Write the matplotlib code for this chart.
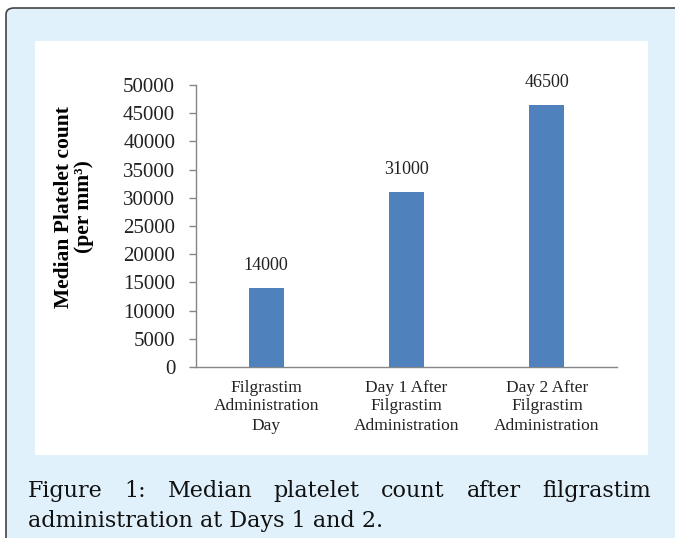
import matplotlib
matplotlib.use("Agg")
import matplotlib.pyplot as plt
from matplotlib.patches import FancyBboxPatch, Rectangle

# data
categories = ["Filgrastim\nAdministration\nDay",
              "Day 1 After\nFilgrastim\nAdministration",
              "Day 2 After\nFilgrastim\nAdministration"]
platelets = [14000, 31000, 46500]
yticks = list(range(0, 50001, 5000))

W, H = 675, 538
bar_color = "#4F81BD"
axis_color = "#868686"
bg_blue = "#E0F1FB"


def fx(x):
    return x / W


def fy(y):
    return 1 - y / H


fig = plt.figure(figsize=(W / 100, H / 100), dpi=100)
fig.patch.set_facecolor("white")

# outer frame (light blue, rounded, clipped at the right/bottom)
frame = FancyBboxPatch((fx(6), fy(700)), fx(760), fy(8) - fy(700),
                       boxstyle="round,pad=0,rounding_size=0.012",
                       transform=fig.transFigure, facecolor=bg_blue,
                       edgecolor="#444444", linewidth=1.2, zorder=0)
fig.patches.append(frame)
# white panel behind the chart
panel = Rectangle((fx(35), fy(455)), fx(648) - fx(35), fy(41) - fy(455),
                  transform=fig.transFigure, facecolor="white",
                  edgecolor="none", zorder=1)
fig.patches.append(panel)

ax = fig.add_axes([fx(196), fy(367), fx(617) - fx(196), fy(85) - fy(367)])
ax.set_facecolor("none")
ax.set_zorder(5)

x = range(len(categories))
bars = ax.bar(x, platelets, width=0.25, color=bar_color, zorder=3)
ax.set_xlim(-0.5, 2.5)
ax.set_ylim(0, 50000)
ax.set_yticks(yticks)
ax.set_yticklabels([str(v) for v in yticks], family="Liberation Serif",
                   fontsize=15, color="#222222")
ax.set_xticks(list(x))
ax.set_xticklabels(categories, family="Liberation Serif", fontsize=12.5,
                   linespacing=1.25, color="#222222")
ax.tick_params(axis="x", length=0, pad=9)
ax.tick_params(axis="y", length=5, color=axis_color, width=1, pad=10)

for side in ["top", "right"]:
    ax.spines[side].set_visible(False)
for side in ["left", "bottom"]:
    ax.spines[side].set_color(axis_color)
    ax.spines[side].set_linewidth(1)

for b, v in zip(bars, platelets):
    ax.annotate(str(v), (b.get_x() + b.get_width() / 2, v),
                xytext=(0, 10), textcoords="offset points", ha="center",
                va="bottom", family="Liberation Serif", fontsize=13,
                color="#222222")

fig.text(fx(74), fy(207), "Median Platelet count\n(per mm³)",
         rotation=90, ha="center", va="center", family="Liberation Serif",
         fontweight="bold", fontsize=15.5, linespacing=1.05, zorder=6)

# caption, first line justified
cap1 = ["Figure", "1:", "Median", "platelet", "count", "after", "filgrastim"]
cap_font = dict(family="DejaVu Serif", fontsize=16, color="#111111",
                zorder=6)
renderer = fig.canvas.get_renderer()
left, right = 28, 651
texts = [fig.text(0, fy(497), w, va="baseline", **cap_font) for w in cap1]
widths = [t.get_window_extent(renderer).width for t in texts]
gap = (right - left - sum(widths)) / (len(cap1) - 1)
pos = left
for t, w in zip(texts, widths):
    t.set_x(fx(pos))
    pos += w + gap
fig.text(fx(left), fy(527), "administration at Days 1 and 2.",
         va="baseline", **cap_font)

fig.savefig("out.png", dpi=100)
